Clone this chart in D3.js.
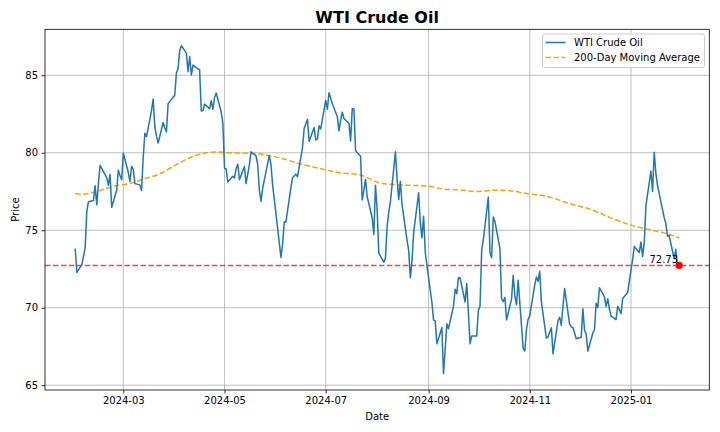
<!DOCTYPE html>
<html>
<head>
<meta charset="utf-8">
<script src="https://cdn.jsdelivr.net/npm/d3@7"></script>
<style>
body { margin: 0; background: #fff; }
text { font-family: "DejaVu Sans", sans-serif; fill: #000; }
</style>
</head>
<body>
<div id="chart"></div>
<script>
// daily closes
var priceDates = [
    "2024-02-01","2024-02-02","2024-02-05","2024-02-06","2024-02-07","2024-02-08","2024-02-09","2024-02-12","2024-02-13","2024-02-14","2024-02-15","2024-02-16","2024-02-20","2024-02-21","2024-02-22","2024-02-23","2024-02-26","2024-02-27","2024-02-28","2024-02-29",
    "2024-03-01","2024-03-04","2024-03-05","2024-03-06","2024-03-07","2024-03-08","2024-03-11","2024-03-12","2024-03-13","2024-03-14","2024-03-15","2024-03-18","2024-03-19","2024-03-20","2024-03-21","2024-03-22","2024-03-25","2024-03-26","2024-03-27","2024-03-28",
    "2024-04-01","2024-04-02","2024-04-03","2024-04-04","2024-04-05","2024-04-08","2024-04-09","2024-04-10","2024-04-11","2024-04-12","2024-04-15","2024-04-16","2024-04-17","2024-04-18","2024-04-19","2024-04-22","2024-04-23","2024-04-24","2024-04-25","2024-04-26","2024-04-29","2024-04-30",
    "2024-05-01","2024-05-02","2024-05-03","2024-05-06","2024-05-07","2024-05-08","2024-05-09","2024-05-10","2024-05-13","2024-05-14","2024-05-15","2024-05-16","2024-05-17","2024-05-20","2024-05-21","2024-05-22","2024-05-23","2024-05-24","2024-05-28","2024-05-29","2024-05-30","2024-05-31",
    "2024-06-03","2024-06-04","2024-06-05","2024-06-06","2024-06-07","2024-06-10","2024-06-11","2024-06-12","2024-06-13","2024-06-14","2024-06-17","2024-06-18","2024-06-20","2024-06-21","2024-06-24","2024-06-25","2024-06-26","2024-06-27","2024-06-28",
    "2024-07-01","2024-07-02","2024-07-03","2024-07-05","2024-07-08","2024-07-09","2024-07-10","2024-07-11","2024-07-12","2024-07-15","2024-07-16","2024-07-17","2024-07-18","2024-07-19","2024-07-22","2024-07-23","2024-07-24","2024-07-25","2024-07-26","2024-07-29","2024-07-30","2024-07-31",
    "2024-08-01","2024-08-02","2024-08-05","2024-08-06","2024-08-07","2024-08-08","2024-08-09","2024-08-12","2024-08-13","2024-08-14","2024-08-15","2024-08-16","2024-08-19","2024-08-20","2024-08-21","2024-08-22","2024-08-23","2024-08-26","2024-08-27","2024-08-28","2024-08-29","2024-08-30",
    "2024-09-03","2024-09-04","2024-09-05","2024-09-06","2024-09-09","2024-09-10","2024-09-11","2024-09-12","2024-09-13","2024-09-16","2024-09-17","2024-09-18","2024-09-19","2024-09-20","2024-09-23","2024-09-24","2024-09-25","2024-09-26","2024-09-27","2024-09-30",
    "2024-10-01","2024-10-02","2024-10-03","2024-10-04","2024-10-07","2024-10-08","2024-10-09","2024-10-10","2024-10-11","2024-10-14","2024-10-15","2024-10-16","2024-10-17","2024-10-18","2024-10-21","2024-10-22","2024-10-23","2024-10-24","2024-10-25","2024-10-28","2024-10-29","2024-10-30","2024-10-31",
    "2024-11-01","2024-11-04","2024-11-05","2024-11-06","2024-11-07","2024-11-08","2024-11-11","2024-11-12","2024-11-13","2024-11-14","2024-11-15","2024-11-18","2024-11-19","2024-11-20","2024-11-21","2024-11-22","2024-11-25","2024-11-26","2024-11-27","2024-11-29",
    "2024-12-02","2024-12-03","2024-12-04","2024-12-05","2024-12-06","2024-12-09","2024-12-10","2024-12-11","2024-12-12","2024-12-13","2024-12-16","2024-12-17","2024-12-18","2024-12-19","2024-12-20","2024-12-23","2024-12-24","2024-12-26","2024-12-27","2024-12-30","2024-12-31",
    "2025-01-02","2025-01-03","2025-01-06","2025-01-07","2025-01-08","2025-01-09","2025-01-10","2025-01-13","2025-01-14","2025-01-15","2025-01-16","2025-01-17","2025-01-21","2025-01-22","2025-01-23","2025-01-24","2025-01-27","2025-01-28","2025-01-29","2025-01-30"
];
var priceValues = [
    73.82,72.28,72.78,73.31,73.86,76.22,76.84,76.92,77.87,76.64,78.03,79.19,78.40,77.91,78.61,76.49,77.58,78.87,78.54,78.26,
    79.97,78.74,78.15,79.13,78.93,78.01,77.93,77.56,79.72,81.26,81.04,82.72,83.47,81.68,81.07,80.63,81.95,81.62,81.35,83.17,
    83.71,85.15,85.43,86.59,86.91,86.43,85.23,86.21,85.02,85.66,85.41,85.36,82.69,82.73,83.14,82.85,83.36,82.81,83.57,83.85,82.63,81.93,
    79.00,78.95,78.11,78.48,78.38,78.99,79.26,78.26,79.12,78.02,78.63,79.23,80.06,79.80,79.26,77.57,76.87,77.72,79.83,79.23,77.91,76.99,
    74.22,73.25,74.07,75.55,75.53,77.74,78.40,78.50,78.62,78.45,80.33,81.57,82.17,80.73,81.63,80.83,80.90,81.74,81.54,
    83.38,82.81,83.88,83.16,82.33,81.41,82.10,82.62,82.21,81.91,80.76,82.85,82.82,80.13,79.78,76.96,77.59,78.28,77.16,75.81,74.73,77.91,
    76.31,73.52,72.94,73.20,75.23,76.19,76.84,80.06,78.35,76.98,78.16,76.65,74.37,73.70,71.93,73.01,74.83,77.42,75.53,74.52,75.91,73.55,
    70.34,69.20,69.15,67.67,68.71,65.75,67.31,68.97,68.65,70.09,71.19,70.91,71.95,71.92,70.37,71.56,69.69,67.67,68.18,68.17,
    69.83,70.10,73.71,74.38,77.14,73.57,73.24,75.85,75.56,73.83,70.58,70.39,70.67,69.22,70.56,72.09,70.77,70.19,71.78,67.38,67.21,68.61,69.26,
    69.49,71.47,71.99,71.69,72.36,70.38,68.04,68.12,68.43,68.70,67.02,69.16,69.39,68.87,70.10,71.24,68.94,68.77,68.72,68.00,
    68.10,69.94,68.54,68.30,67.20,68.37,68.59,70.29,70.02,71.29,70.71,70.08,70.58,69.91,69.46,69.24,70.10,69.62,70.60,70.99,71.72,
    73.13,73.96,73.56,74.25,73.32,74.20,76.57,78.82,77.50,80.04,78.68,77.88,75.83,75.44,74.62,74.66,73.17,73.77,72.62,72.73
];

// 200-day moving average
var maDates = [
    "2024-02-01","2024-02-05","2024-02-13","2024-02-23","2024-03-06","2024-03-14","2024-03-22","2024-04-03","2024-04-11","2024-04-26",
    "2024-05-06","2024-05-16","2024-05-30","2024-06-07","2024-06-15","2024-06-23","2024-07-02","2024-07-10","2024-07-21","2024-07-27",
    "2024-08-01","2024-08-11","2024-08-21","2024-08-31","2024-09-10","2024-09-20","2024-09-30","2024-10-10","2024-10-20","2024-10-30",
    "2024-11-11","2024-11-25","2024-12-09","2024-12-21","2025-01-02","2025-01-14","2025-01-22","2025-01-30"
];
var maValues = [
    77.37,77.32,77.47,77.80,78.05,78.33,78.60,79.30,79.73,80.05,
    80.00,79.98,79.77,79.56,79.30,79.10,78.87,78.70,78.60,78.35,
    78.10,77.95,77.90,77.85,77.66,77.60,77.50,77.58,77.55,77.37,
    77.20,76.72,76.30,75.75,75.30,75.00,74.80,74.50
];

var lastPrice = 72.73;
var yTicks = [65, 70, 75, 80, 85];
var xTicks = ["2024-03-01","2024-05-01","2024-07-01","2024-09-01","2024-11-01","2025-01-01"];

var svgWidth = 720;
var svgHeight = 432;
var margin = { top: 29.3, right: 10.7, bottom: 42, left: 45 };
var width = svgWidth - margin.left - margin.right;
var height = svgHeight - margin.top - margin.bottom;

var parseDate = d3.timeParse("%Y-%m-%d");

var prices = priceDates.map((d, i) => ({ date: parseDate(d), value: priceValues[i] }));
var ma = maDates.map((d, i) => ({ date: parseDate(d), value: maValues[i] }));

var svg = d3.select("#chart")
    .append("svg")
    .attr("width", svgWidth)
    .attr("height", svgHeight);

var chartGroup = svg.append("g")
    .attr("transform", `translate(${margin.left}, ${margin.top})`);

// scales with matplotlib style 5% margins
var xExtent = d3.extent(prices, d => d.date);
var xPad = (xExtent[1] - xExtent[0]) * 0.05;
var xScale = d3.scaleTime()
    .domain([new Date(+xExtent[0] - xPad), new Date(+xExtent[1] + xPad)])
    .range([0, width]);

var yMin = d3.min(prices.concat(ma), d => d.value);
var yMax = d3.max(prices.concat(ma), d => d.value);
var yPad = (yMax - yMin) * 0.05;
var yScale = d3.scaleLinear()
    .domain([yMin - yPad, yMax + yPad])
    .range([height, 0]);

// grid
chartGroup.append("g")
    .selectAll("line.vgrid")
    .data(xTicks)
    .enter()
    .append("line")
    .attr("x1", d => xScale(parseDate(d)))
    .attr("x2", d => xScale(parseDate(d)))
    .attr("y1", 0)
    .attr("y2", height)
    .attr("stroke", "#b0b0b0")
    .attr("stroke-width", 0.8);

chartGroup.append("g")
    .selectAll("line.hgrid")
    .data(yTicks)
    .enter()
    .append("line")
    .attr("x1", 0)
    .attr("x2", width)
    .attr("y1", d => yScale(d))
    .attr("y2", d => yScale(d))
    .attr("stroke", "#b0b0b0")
    .attr("stroke-width", 0.8);

// lines
var line = d3.line()
    .x(d => xScale(d.date))
    .y(d => yScale(d.value));

chartGroup.append("path")
    .datum(ma)
    .attr("fill", "none")
    .attr("stroke", "orange")
    .attr("stroke-width", 1.5)
    .attr("stroke-dasharray", "5.55,2.4")
    .attr("d", line.curve(d3.curveMonotoneX));

chartGroup.append("path")
    .datum(prices)
    .attr("fill", "none")
    .attr("stroke", "#1f77b4")
    .attr("stroke-width", 1.5)
    .attr("stroke-linejoin", "round")
    .attr("d", d3.line().x(d => xScale(d.date)).y(d => yScale(d.value)));

// latest price marker
var last = prices[prices.length - 1];

chartGroup.append("line")
    .attr("x1", 0)
    .attr("x2", width)
    .attr("y1", yScale(lastPrice))
    .attr("y2", yScale(lastPrice))
    .attr("stroke", "#ff2020")
    .attr("stroke-opacity", 0.85)
    .attr("stroke-width", 1.6)
    .attr("stroke-dasharray", "5.55,2.4");

chartGroup.append("text")
    .attr("x", xScale(last.date) - 1)
    .attr("y", yScale(lastPrice) - 2)
    .attr("text-anchor", "end")
    .attr("font-size", "10px")
    .text(lastPrice.toFixed(2));

chartGroup.append("circle")
    .attr("cx", xScale(last.date))
    .attr("cy", yScale(lastPrice))
    .attr("r", 3.6)
    .attr("fill", "red");

// axes
var bottomAxis = d3.axisBottom(xScale)
    .tickValues(xTicks.map(parseDate))
    .tickFormat(d3.timeFormat("%Y-%m"))
    .tickSizeInner(3.5)
    .tickSizeOuter(0)
    .tickPadding(3.5);

var leftAxis = d3.axisLeft(yScale)
    .tickValues(yTicks)
    .tickSizeInner(3.5)
    .tickSizeOuter(0)
    .tickPadding(3.5);

var xAxis = chartGroup.append("g")
    .attr("transform", `translate(0, ${height})`)
    .call(bottomAxis);

var yAxis = chartGroup.append("g")
    .call(leftAxis);

[xAxis, yAxis].forEach(function(ax) {
    ax.select(".domain").remove();
    ax.selectAll("line").attr("stroke", "#000").attr("stroke-width", 0.8);
    ax.selectAll("text")
        .attr("font-size", "10px")
        .attr("font-family", "DejaVu Sans, sans-serif")
        .attr("fill", "#000");
});

// frame
chartGroup.append("rect")
    .attr("x", 0)
    .attr("y", 0)
    .attr("width", width)
    .attr("height", height)
    .attr("fill", "none")
    .attr("stroke", "#000")
    .attr("stroke-width", 0.8);

// title and axis labels
svg.append("text")
    .attr("x", margin.left + width / 2)
    .attr("y", 23.3)
    .attr("text-anchor", "middle")
    .attr("font-size", "16px")
    .attr("font-weight", "bold")
    .text("WTI Crude Oil");

svg.append("text")
    .attr("x", margin.left + width / 2)
    .attr("y", 420)
    .attr("text-anchor", "middle")
    .attr("font-size", "10px")
    .text("Date");

svg.append("text")
    .attr("transform", "rotate(-90)")
    .attr("x", -(margin.top + height / 2))
    .attr("y", 19)
    .attr("text-anchor", "middle")
    .attr("font-size", "10px")
    .text("Price");

// legend
var legend = svg.append("g")
    .attr("transform", "translate(542.5, 34)");

legend.append("rect")
    .attr("width", 162)
    .attr("height", 33.5)
    .attr("rx", 2.5)
    .attr("fill", "#fff")
    .attr("fill-opacity", 0.8)
    .attr("stroke", "#cccccc")
    .attr("stroke-width", 1);

var legendItems = [
    { label: "WTI Crude Oil", color: "#1f77b4", dash: null },
    { label: "200-Day Moving Average", color: "orange", dash: "5.55,2.4" }
];

legendItems.forEach(function(item, i) {
    var yy = 8.5 + i * 15;
    legend.append("line")
        .attr("x1", 3)
        .attr("x2", 23)
        .attr("y1", yy)
        .attr("y2", yy)
        .attr("stroke", item.color)
        .attr("stroke-width", 1.5)
        .attr("stroke-dasharray", item.dash);
    legend.append("text")
        .attr("x", 31.5)
        .attr("y", yy + 3.6)
        .attr("font-size", "10px")
        .text(item.label);
});
</script>
</body>
</html>
